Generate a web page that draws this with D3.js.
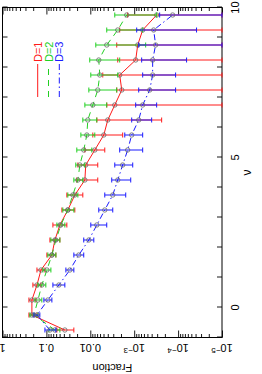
<!DOCTYPE html>
<html>
<head>
<meta charset="utf-8">
<script src="https://cdn.jsdelivr.net/npm/d3@7"></script>
<style>
    body { margin: 0; background: #fff; }
    text { font-family: "Liberation Sans", Arial, sans-serif; }
</style>
</head>
<body>
<div id="chart"></div>
<script>
// bin centres (nu) and fractions
const nu = [-0.75, -0.25, 0.25, 0.75, 1.25, 1.75, 2.25, 2.75, 3.25, 3.75, 4.25,
            4.75, 5.25, 5.75, 6.25, 6.75, 7.25, 7.75, 8.25, 8.75, 9.25, 9.75];

// D=1
const d1 = [0.0380, 0.214, 0.214, 0.164, 0.133, 0.0750, 0.0641, 0.0493, 0.0325, 0.0225, 0.0133,
            0.0127, 0.00790, 0.00493, 0.00400, 0.00277, 0.00192, 0.00214, 0.000925, 0.000832, 0.000641, 0.000308];
const d1Hi = [0.0577, 0.250, 0.250, 0.203, 0.164, 0.0975, 0.0832, 0.0711, 0.0444, 0.0342, 0.0203,
              0.0192, 0.0133, 0.00877, 0.00711, 0.00422, 0.00250, 0.00520, 0.00237, 0.00250, 0.00214, 0.00141];
const d1Lo = [0.0237, 0.164, 0.173, 0.133, 0.108, 0.0608, 0.0493, 0.0342, 0.0225, 0.0148, 0.00676,
              0.00676, 0.00468, 0.00183, 0.000237, 0, 0, 0, 0, 0, 0, 0];

// D=2
const d2 = [0.0641, 0.192, 0.156, 0.127, 0.0975, 0.0750, 0.0608, 0.0468, 0.0325, 0.0250, 0.0192,
            0.0173, 0.0141, 0.0120, 0.0114, 0.00877, 0.00676, 0.00608, 0.00641, 0.00422, 0.00237, 0.00148];
const d2Hi = [0.0877, 0.237, 0.183, 0.156, 0.120, 0.0925, 0.0790, 0.0577, 0.0422, 0.0325, 0.0237,
              0.0214, 0.0203, 0.0164, 0.0148, 0.0133, 0.0108, 0.00975, 0.0103, 0.00750, 0.00422, 0.00277];
const d2Lo = [0.0493, 0.156, 0.127, 0.103, 0.0790, 0.0608, 0.0493, 0.0380, 0.0237, 0.0192, 0.0148,
              0.0133, 0.00925, 0.00790, 0.00711, 0.00422, 0.00250, 0.00237, 0.00214, 0.000548, 0.000641, 0.000308];

// D=3
const d3v = [0.0832, 0.164, 0.0925, 0.0520, 0.0292, 0.0183, 0.0108, 0.00711, 0.00468, 0.00308, 0.00237,
             0.00183, 0.00141, 0.00114, 0.000790, 0.000641, 0.000444, 0.000380, 0.000380, 0.000325, 0.000360, 0.000133];
const d3Hi = [0.108, 0.192, 0.114, 0.0711, 0.0360, 0.0237, 0.0141, 0.00975, 0.00641, 0.00468, 0.00325,
              0.00277, 0.00214, 0.00164, 0.00114, 0.000925, 0.000790, 0.000641, 0.000676, 0.000790, 0.000877, 0.000263];
const d3Lo = [0.0608, 0.141, 0.0750, 0.0380, 0.0237, 0.0141, 0.00832, 0.00422, 0.00308, 0.00156, 0.00120,
              0.00108, 0.000641, 0.000641, 0.000400, 0.000308, 0.000114, 0.000114, 0.0000641, 0, 0.0000380, 0];

const seriesNames = ["D=1", "D=2", "D=3"];
const nuTicks = [0, 5, 10];
const fracTicks = [1, 0.1, 0.01, 0.001, 0.0001, 0.00001];
const fracLabels = [["1", ""], ["0.1", ""], ["0.01", ""], ["10", "\u22123"], ["10", "\u22124"], ["10", "\u22125"]];

const series = [
    {name: seriesNames[0], v: d1, hi: d1Hi, lo: d1Lo, color: "#ff1a1a", dash: null},
    {name: seriesNames[1], v: d2, hi: d2Hi, lo: d2Lo, color: "#22d022", dash: "6,5"},
    {name: seriesNames[2], v: d3v, hi: d3Hi, lo: d3Lo, color: "#1a1aff", dash: "6,3,1.5,3"}
];

// the plot is drawn in landscape and turned a quarter turn anticlockwise
const W = 374, H = 262;
const svg = d3.select("#chart").append("svg")
    .attr("width", H)
    .attr("height", W);
const g = svg.append("g")
    .attr("transform", `translate(0,${W}) rotate(-90)`);

const box = {left: 36.5, right: 366.5, top: 2.5, bottom: 222};

const x = d3.scaleLinear().domain([-1, 10]).range([box.left, box.right]);
const y = d3.scaleLog().domain([1e-5, 1]).range([box.bottom, box.top]);
const yc = v => y(Math.max(v, 1e-5));

// ticks (inward, mirrored)
const nuAll = d3.range(-1, 11);
const minor = [];
for (let e = -5; e < 0; e++) for (let m = 2; m < 10; m++) minor.push(m * Math.pow(10, e));

function tickAxis(axis, tr) {
    const a = g.append("g").attr("transform", tr).call(axis.tickFormat(""));
    a.select(".domain").remove();
    a.selectAll("line").attr("stroke", "#000").attr("stroke-width", 0.9);
}
tickAxis(d3.axisBottom(x).tickValues(nuAll).tickSize(-5), `translate(0,${box.bottom})`);
tickAxis(d3.axisTop(x).tickValues(nuAll).tickSize(-5), `translate(0,${box.top})`);
tickAxis(d3.axisLeft(y).tickValues(fracTicks).tickSize(-7), `translate(${box.left},0)`);
tickAxis(d3.axisLeft(y).tickValues(minor).tickSize(-3.5), `translate(${box.left},0)`);
tickAxis(d3.axisRight(y).tickValues(fracTicks).tickSize(-7), `translate(${box.right},0)`);
tickAxis(d3.axisRight(y).tickValues(minor).tickSize(-3.5), `translate(${box.right},0)`);

// frame
g.append("rect")
    .attr("x", box.left).attr("y", box.top)
    .attr("width", box.right - box.left).attr("height", box.bottom - box.top)
    .attr("fill", "none").attr("stroke", "#000").attr("stroke-width", 1);

// nu labels
g.selectAll(".nulab").data(nuTicks).enter().append("text")
    .attr("class", "nulab")
    .attr("x", d => x(d)).attr("y", 239)
    .attr("text-anchor", "middle").attr("font-size", 11)
    .text(d => d);
g.append("text")
    .attr("x", (box.left + box.right) / 2).attr("y", 251)
    .attr("text-anchor", "middle").attr("font-size", 12)
    .text("\u03bd");

// fraction labels
fracTicks.forEach((d, i) => {
    const t = g.append("text")
        .attr("transform", `translate(30,${y(d)}) rotate(-90)`)
        .attr("text-anchor", "middle").attr("font-size", 11);
    t.append("tspan").text(fracLabels[i][0]);
    if (fracLabels[i][1]) {
        t.append("tspan").attr("dy", -4).attr("font-size", 8).text(fracLabels[i][1]);
    }
});
g.append("text")
    .attr("transform", `translate(10,${(box.top + box.bottom) / 2}) rotate(-90)`)
    .attr("text-anchor", "middle").attr("font-size", 11)
    .text("Fraction");

// data
const line = d3.line().x((d, i) => x(nu[i])).y(d => yc(d));
series.forEach(s => {
    const sg = g.append("g");
    // error bars
    nu.forEach((n, i) => {
        const cx = x(n), y1 = yc(s.hi[i]), y2 = yc(s.lo[i]);
        sg.append("line").attr("x1", cx).attr("x2", cx).attr("y1", y1).attr("y2", y2)
            .attr("stroke", s.color).attr("stroke-width", 1);
        [y1, y2].forEach(yy => {
            sg.append("line").attr("x1", cx - 2.5).attr("x2", cx + 2.5).attr("y1", yy).attr("y2", yy)
                .attr("stroke", s.color).attr("stroke-width", 1);
        });
    });
    sg.append("path").datum(s.v)
        .attr("d", line)
        .attr("fill", "none")
        .attr("stroke", s.color).attr("stroke-width", 1)
        .attr("stroke-dasharray", s.dash);
    sg.selectAll("circle").data(s.v).enter().append("circle")
        .attr("cx", (d, i) => x(nu[i])).attr("cy", d => yc(d))
        .attr("r", 2.2)
        .attr("fill", "none").attr("stroke", "#666").attr("stroke-width", 0.8);
});

// legend
series.forEach((s, i) => {
    const ly = 37.7 + 10.8 * i;
    g.append("line")
        .attr("x1", 277).attr("x2", 310).attr("y1", ly).attr("y2", ly)
        .attr("stroke", s.color).attr("stroke-width", 1)
        .attr("stroke-dasharray", s.dash);
    g.append("text")
        .attr("x", 312).attr("y", ly + 4)
        .attr("font-size", 11).attr("fill", s.color)
        .text(s.name);
});
</script>
</body>
</html>
